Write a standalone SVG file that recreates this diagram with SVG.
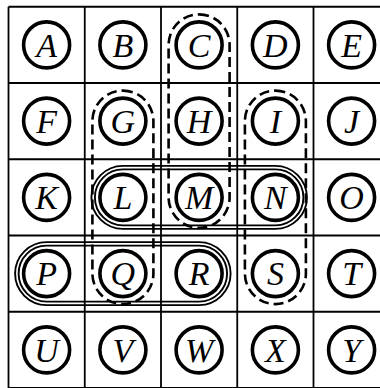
<svg xmlns="http://www.w3.org/2000/svg" width="380" height="388" viewBox="0 0 380 388">
<style>
.grid{stroke:#000;stroke-width:1.8;fill:none}
.node circle{fill:#fff;stroke:#000;stroke-width:3.6}
.node text{font-family:"Liberation Serif","Times New Roman",serif;font-style:italic;font-size:34px;text-anchor:middle;fill:#000}
.dash{fill:none;stroke:#000;stroke-width:2.6;stroke-dasharray:10 5}
.solid{fill:none;stroke:#000;stroke-width:1.9}
</style>
<rect width="380" height="388" fill="#fff"/>
<g id="grid" class="grid">
<line x1="8.5" y1="6.75" x2="8.5" y2="388"/>
<line x1="84.75" y1="6.75" x2="84.75" y2="388"/>
<line x1="161" y1="6.75" x2="161" y2="388"/>
<line x1="237.25" y1="6.75" x2="237.25" y2="388"/>
<line x1="313.5" y1="6.75" x2="313.5" y2="388"/>
<line x1="8.5" y1="6.75" x2="380" y2="6.75"/>
<line x1="8.5" y1="83" x2="380" y2="83"/>
<line x1="8.5" y1="159.25" x2="380" y2="159.25"/>
<line x1="8.5" y1="235.5" x2="380" y2="235.5"/>
<line x1="8.5" y1="311.75" x2="380" y2="311.75"/>
<line x1="8.5" y1="388" x2="380" y2="388"/>
</g>
<g id="connectors">
<rect class="dash" x="168.6" y="14.4" width="61" height="213.5" rx="30.5"/>
<rect class="dash" x="92.4" y="90.6" width="61" height="213.5" rx="30.5"/>
<rect class="dash" x="244.9" y="90.6" width="61" height="213.5" rx="30.5"/>
<rect class="solid" x="91.4" y="165.9" width="215.5" height="63" rx="31.5"/>
<rect class="solid" x="94.9" y="169.4" width="208.5" height="56" rx="28"/>
<rect class="solid" x="15.1" y="242.1" width="215.5" height="63" rx="31.5"/>
<rect class="solid" x="18.6" y="245.6" width="208.5" height="56" rx="28"/>
</g>
<g id="A" class="node"><circle cx="46.6" cy="44.9" r="23"/><text x="46.6" y="56.6">A</text></g>
<g id="B" class="node"><circle cx="122.9" cy="44.9" r="23"/><text x="122.9" y="56.6">B</text></g>
<g id="C" class="node"><circle cx="199.1" cy="44.9" r="23"/><text x="199.1" y="56.6">C</text></g>
<g id="D" class="node"><circle cx="275.4" cy="44.9" r="23"/><text x="275.4" y="56.6">D</text></g>
<g id="E" class="node"><circle cx="351.6" cy="44.9" r="23"/><text x="351.6" y="56.6">E</text></g>
<g id="F" class="node"><circle cx="46.6" cy="121.1" r="23"/><text x="46.6" y="132.8">F</text></g>
<g id="G" class="node"><circle cx="122.9" cy="121.1" r="23"/><text x="122.9" y="132.8">G</text></g>
<g id="H" class="node"><circle cx="199.1" cy="121.1" r="23"/><text x="199.1" y="132.8">H</text></g>
<g id="I" class="node"><circle cx="275.4" cy="121.1" r="23"/><text x="275.4" y="132.8">I</text></g>
<g id="J" class="node"><circle cx="351.6" cy="121.1" r="23"/><text x="351.6" y="132.8">J</text></g>
<g id="K" class="node"><circle cx="46.6" cy="197.4" r="23"/><text x="46.6" y="209.1">K</text></g>
<g id="L" class="node"><circle cx="122.9" cy="197.4" r="23"/><text x="122.9" y="209.1">L</text></g>
<g id="M" class="node"><circle cx="199.1" cy="197.4" r="23"/><text x="199.1" y="209.1">M</text></g>
<g id="N" class="node"><circle cx="275.4" cy="197.4" r="23"/><text x="275.4" y="209.1">N</text></g>
<g id="O" class="node"><circle cx="351.6" cy="197.4" r="23"/><text x="351.6" y="209.1">O</text></g>
<g id="P" class="node"><circle cx="46.6" cy="273.6" r="23"/><text x="46.6" y="285.3">P</text></g>
<g id="Q" class="node"><circle cx="122.9" cy="273.6" r="23"/><text x="122.9" y="285.3">Q</text></g>
<g id="R" class="node"><circle cx="199.1" cy="273.6" r="23"/><text x="199.1" y="285.3">R</text></g>
<g id="S" class="node"><circle cx="275.4" cy="273.6" r="23"/><text x="275.4" y="285.3">S</text></g>
<g id="T" class="node"><circle cx="351.6" cy="273.6" r="23"/><text x="351.6" y="285.3">T</text></g>
<g id="U" class="node"><circle cx="46.6" cy="349.9" r="23"/><text x="46.6" y="361.6">U</text></g>
<g id="V" class="node"><circle cx="122.9" cy="349.9" r="23"/><text x="122.9" y="361.6">V</text></g>
<g id="W" class="node"><circle cx="199.1" cy="349.9" r="23"/><text x="199.1" y="361.6">W</text></g>
<g id="X" class="node"><circle cx="275.4" cy="349.9" r="23"/><text x="275.4" y="361.6">X</text></g>
<g id="Y" class="node"><circle cx="351.6" cy="349.9" r="23"/><text x="351.6" y="361.6">Y</text></g>
</svg>
